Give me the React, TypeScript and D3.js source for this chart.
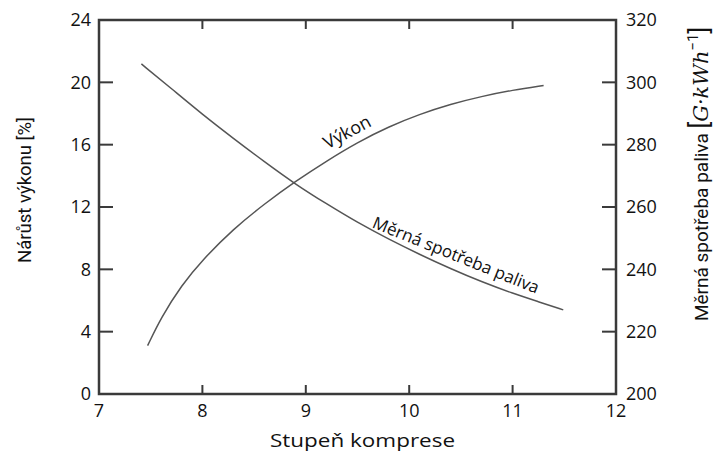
import React, { useEffect, useRef } from 'react';
import * as d3 from 'd3';

// Výkon (left axis, %)
const vykonX = [7.47, 7.6, 7.8, 8.0, 8.3, 8.6, 8.9, 9.2, 9.5, 9.8, 10.1, 10.4, 10.7, 11.0, 11.3];
const vykonY = [3.1, 4.9, 7.0, 8.6, 10.6, 12.2, 13.65, 14.95, 16.15, 17.15, 17.95, 18.6, 19.1, 19.5, 19.8];

// Měrná spotřeba paliva (right axis)
const spotrebaX = [7.41, 7.7, 8.0, 8.3, 8.6, 8.9, 9.2, 9.5, 9.8, 10.1, 10.4, 10.7, 11.0, 11.25, 11.49];
const spotrebaY = [305.9, 298.0, 289.7, 282.0, 274.5, 267.3, 261.0, 255.0, 249.7, 244.8, 240.2, 236.0, 232.3, 229.6, 227.0];

const xTicks = [7, 8, 9, 10, 11, 12];
const leftTicks = [0, 4, 8, 12, 16, 20, 24];
const rightTicks = [200, 220, 240, 260, 280, 300, 320];

const W = 713, H = 453;
const margin = { top: 20, right: 97, bottom: 59, left: 99 };

export default function App() {
  const ref = useRef<SVGSVGElement>(null);

  useEffect(() => {
    const svg = d3.select(ref.current);
    svg.selectAll('*').remove();
    const x0 = margin.left, x1 = W - margin.right;
    const y0 = H - margin.bottom, y1 = margin.top;

    const x = d3.scaleLinear().domain([7, 12]).range([x0, x1]);
    const yL = d3.scaleLinear().domain([0, 24]).range([y0, y1]);
    const yR = d3.scaleLinear().domain([200, 320]).range([y0, y1]);

    const font = "'Open Sans', sans-serif";
    const frame = '#3a3a3a';

    // curves
    const line = d3.line<[number, number]>().curve(d3.curveBasis);
    const vyk = vykonX.map((v, i) => [x(v), yL(vykonY[i])] as [number, number]);
    const spo = spotrebaX.map((v, i) => [x(v), yR(spotrebaY[i])] as [number, number]);
    svg.append('path').attr('d', line(vyk)).attr('fill', 'none').attr('stroke', '#555').attr('stroke-width', 1.5);
    svg.append('path').attr('d', line(spo)).attr('fill', 'none').attr('stroke', '#555').attr('stroke-width', 1.5);

    // ticks
    const g = svg.append('g').attr('stroke', frame).attr('stroke-width', 2);
    xTicks.slice(1, -1).forEach(t => {
      g.append('line').attr('x1', x(t)).attr('x2', x(t)).attr('y1', y0).attr('y2', y0 - 9);
      g.append('line').attr('x1', x(t)).attr('x2', x(t)).attr('y1', y1).attr('y2', y1 + 9);
    });
    leftTicks.slice(1, -1).forEach(t => {
      g.append('line').attr('x1', x0).attr('x2', x0 + 14).attr('y1', yL(t)).attr('y2', yL(t));
    });
    rightTicks.slice(1, -1).forEach(t => {
      g.append('line').attr('x1', x1).attr('x2', x1 - 14).attr('y1', yR(t)).attr('y2', yR(t));
    });

    // frame
    svg.append('rect').attr('x', x0).attr('y', y1).attr('width', x1 - x0).attr('height', y0 - y1)
      .attr('fill', 'none').attr('stroke', frame).attr('stroke-width', 2.5);

    // tick labels
    svg.selectAll('.xl').data(xTicks).join('text').attr('class', 'xl')
      .attr('x', d => x(d)).attr('y', y0 + 17).attr('dy', '0.35em')
      .attr('text-anchor', 'middle').attr('font-family', font).attr('font-size', 18).attr('fill', '#111')
      .text(d => d);
    svg.selectAll('.yl').data(leftTicks).join('text').attr('class', 'yl')
      .attr('x', x0 - 8).attr('y', d => yL(d)).attr('dy', '0.35em')
      .attr('text-anchor', 'end').attr('font-family', font).attr('font-size', 18).attr('fill', '#111')
      .text(d => d);
    svg.selectAll('.yr').data(rightTicks).join('text').attr('class', 'yr')
      .attr('x', x1 + 10).attr('y', d => yR(d)).attr('dy', '0.35em')
      .attr('text-anchor', 'start').attr('font-family', font).attr('font-size', 18).attr('fill', '#111')
      .text(d => d);

    // axis titles
    svg.append('text').attr('x', (x0 + x1) / 2 + 5).attr('y', 447)
      .attr('text-anchor', 'middle').attr('font-family', font).attr('font-size', 19).attr('fill', '#111')
      .attr('textLength', 185).attr('lengthAdjust', 'spacingAndGlyphs')
      .text('Stupeň komprese');

    svg.append('text').attr('transform', 'translate(31,190) rotate(-90)')
      .attr('text-anchor', 'middle').attr('font-family', 'Roboto, sans-serif').attr('font-size', 19).attr('fill', '#111')
      .attr('textLength', 146).attr('lengthAdjust', 'spacingAndGlyphs')
      .text('Nárůst výkonu [%]');

    const rt = svg.append('text').attr('transform', 'translate(708,174) rotate(-90)')
      .attr('text-anchor', 'middle').attr('font-family', 'Roboto, sans-serif').attr('font-size', 19).attr('fill', '#111');
    rt.append('tspan').text('Měrná spotřeba paliva ');
    rt.append('tspan').attr('font-size', 25).text('[');
    rt.append('tspan').attr('font-family', "'DejaVu Serif', serif").attr('font-style', 'italic').attr('font-size', 21).text('G·kWh');
    rt.append('tspan').attr('font-size', 15).attr('dy', -10).text('−1');
    rt.append('tspan').attr('font-size', 25).attr('dy', 10).text(']');

    // curve labels
    svg.append('text').attr('transform', 'translate(347,132) rotate(-28)').attr('dy', '0.35em')
      .attr('text-anchor', 'middle').attr('font-family', font).attr('font-size', 18).attr('fill', '#111')
      .text('Výkon');
    svg.append('text').attr('transform', 'translate(456,255) rotate(22)').attr('dy', '0.35em')
      .attr('text-anchor', 'middle').attr('font-family', font).attr('font-size', 17).attr('fill', '#111')
      .text('Měrná spotřeba paliva');
  }, []);

  return (
    <svg ref={ref} width={W} height={H}
      style={{ position: 'absolute', left: 0, top: 0, background: '#fff' }} />
  );
}
